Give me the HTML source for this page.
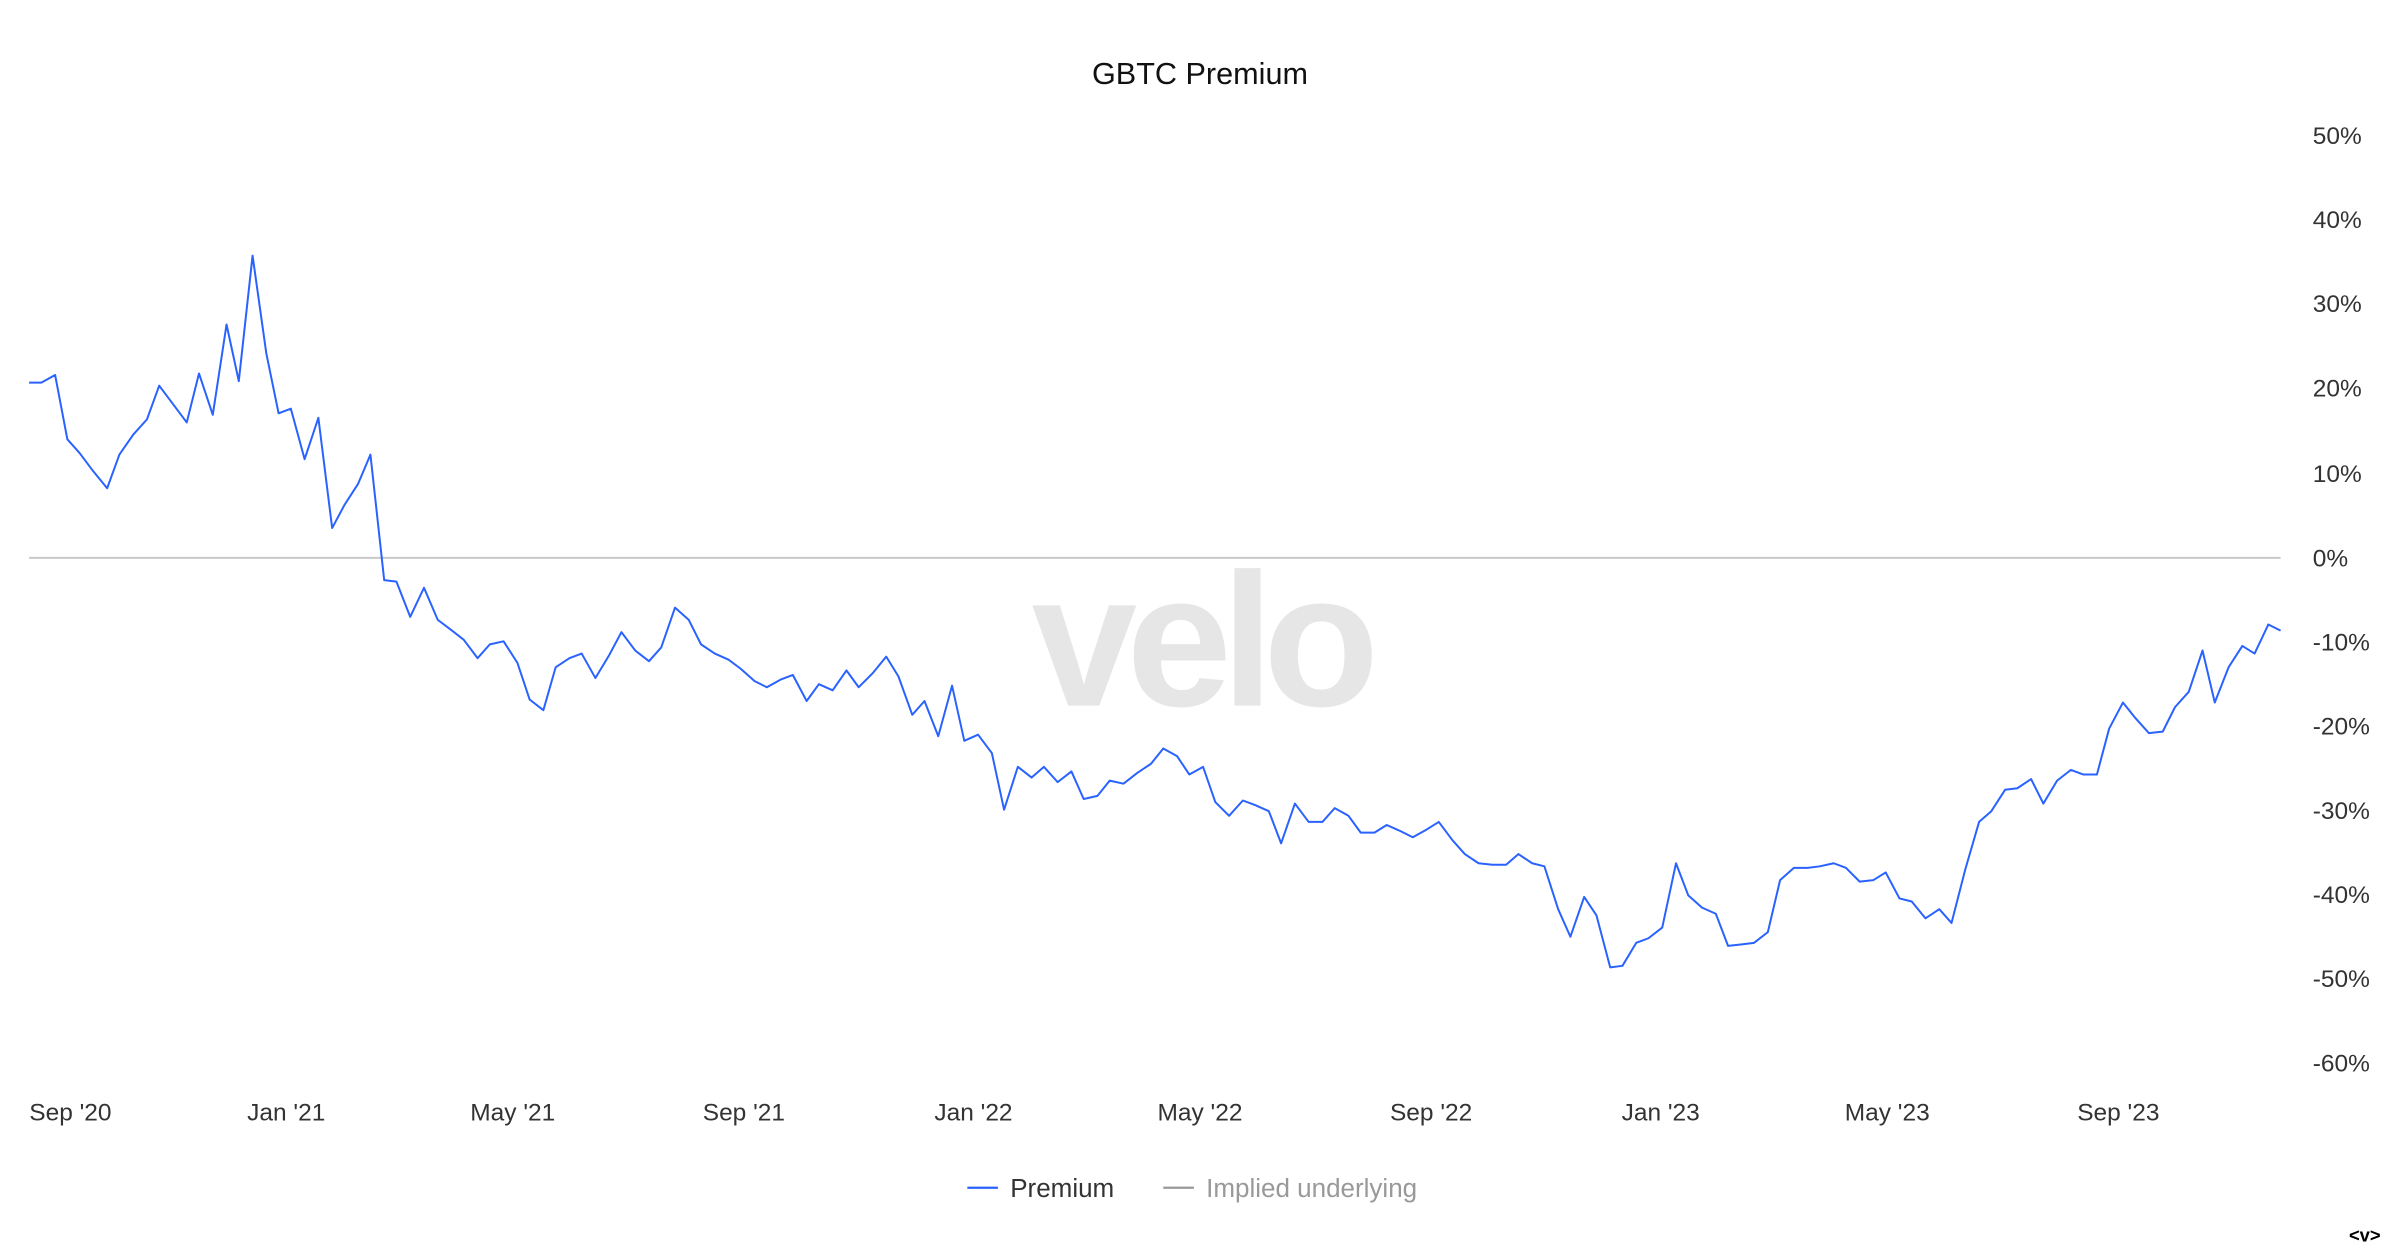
<!DOCTYPE html>
<html><head><meta charset="utf-8"><style>
html,body{margin:0;padding:0;background:#fff;width:2400px;height:1256px;overflow:hidden}
svg{display:block}
text{font-family:"Liberation Sans",sans-serif}
</style></head><body>
<svg width="2400" height="1256" viewBox="0 0 1568 820.6" xmlns="http://www.w3.org/2000/svg">
<rect width="1568" height="820.6" fill="#fff"/>
<text x="784" y="55" text-anchor="middle" font-size="20" fill="#111">GBTC Premium</text>
<text x="784" y="461" text-anchor="middle" font-size="124" font-weight="bold" fill="#e6e6e6" letter-spacing="-7">velo</text>
<line x1="19" y1="364.5" x2="1490" y2="364.5" stroke="#c8c8c8" stroke-width="1.3"/>
<g font-size="16" fill="#333">
<text x="1511" y="94">50%</text>
<text x="1511" y="149">40%</text>
<text x="1511" y="204">30%</text>
<text x="1511" y="259">20%</text>
<text x="1511" y="315">10%</text>
<text x="1511" y="370">0%</text>
<text x="1511" y="425">-10%</text>
<text x="1511" y="480">-20%</text>
<text x="1511" y="535">-30%</text>
<text x="1511" y="590">-40%</text>
<text x="1511" y="645">-50%</text>
<text x="1511" y="700">-60%</text>
</g>
<g font-size="16" fill="#333" text-anchor="middle">
<text x="46" y="732">Sep '20</text>
<text x="187" y="732">Jan '21</text>
<text x="335" y="732">May '21</text>
<text x="486" y="732">Sep '21</text>
<text x="636" y="732">Jan '22</text>
<text x="784" y="732">May '22</text>
<text x="935" y="732">Sep '22</text>
<text x="1085" y="732">Jan '23</text>
<text x="1233" y="732">May '23</text>
<text x="1384" y="732">Sep '23</text>
</g>
<polyline fill="none" stroke="#2962ff" stroke-width="1.3" stroke-linejoin="round" points="19,250 27,250 36,245 44,287 52,296 61,308 70,319 78,297 87,284 96,274 104,252 113,264 122,276 130,244 139,271 148,212 156,249 165,167 174,231 182,270 190,267 199,300 208,273 217,345 225,330 234,316 242,297 251,379 259,380 268,403 277,384 286,405 294,411 303,418 312,430 320,421 329,419 338,433 346,457 355,464 363,436 372,430 380,427 389,443 398,428 406,413 415,425 424,432 432,423 441,397 450,405 458,421 467,427 476,431 484,437 493,445 501,449 510,444 518,441 527,458 535,447 544,451 553,438 561,449 570,440 579,429 587,442 596,467 604,458 613,481 622,448 630,484 639,480 648,492 656,529 665,501 674,508 682,501 691,511 700,504 708,522 717,520 725,510 734,512 743,505 752,499 760,489 769,494 777,506 786,501 794,524 803,533 812,523 820,526 829,530 837,551 846,525 855,537 864,537 872,528 881,533 889,544 898,544 906,539 915,543 923,547 932,542 940,537 949,549 957,558 966,564 975,565 984,565 992,558 1001,564 1009,566 1018,594 1026,612 1035,586 1043,598 1052,632 1060,631 1069,616 1077,613 1086,606 1095,564 1103,585 1112,593 1121,597 1129,618 1138,617 1146,616 1155,609 1163,575 1172,567 1181,567 1189,566 1198,564 1206,567 1215,576 1224,575 1232,570 1241,587 1249,589 1258,600 1267,594 1275,603 1284,568 1293,537 1301,530 1310,516 1318,515 1327,509 1335,525 1344,510 1353,503 1361,506 1370,506 1378,476 1387,459 1395,469 1404,479 1413,478 1421,462 1430,452 1439,425 1447,459 1456,436 1465,422 1473,427 1482,408 1490,412"/>
<line x1="632" y1="776" x2="652" y2="776" stroke="#2962ff" stroke-width="1.5"/>
<text x="660" y="782" font-size="17" fill="#333">Premium</text>
<line x1="760" y1="776" x2="780" y2="776" stroke="#999" stroke-width="1.5"/>
<text x="788" y="782" font-size="17" fill="#999">Implied underlying</text>
<text x="1545" y="811" font-size="12" font-weight="bold" text-anchor="middle" fill="#000" font-family="Liberation Mono">&lt;v&gt;</text>
</svg>
</body></html>
